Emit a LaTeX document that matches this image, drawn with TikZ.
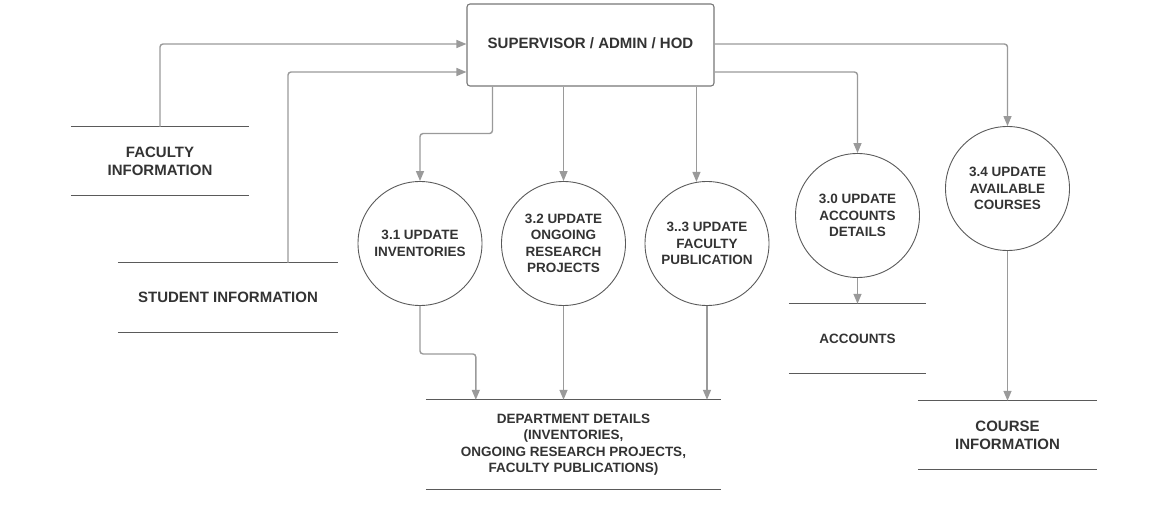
\documentclass[tikz,border=0pt]{standalone}
\usepackage{fontspec}
\setmainfont{Liberation Sans}
\usetikzlibrary{arrows.meta,calc}
\definecolor{txt}{HTML}{333333}
\definecolor{conncol}{HTML}{9A9A9A}
\definecolor{outl}{HTML}{5A5A5A}
\definecolor{boxcol}{HTML}{777777}
\tikzset{
  conn/.style={draw=conncol, line width=1.4pt, rounded corners=3pt, -{Triangle[length=10pt,width=8pt]}},
  plainconn/.style={draw=conncol, line width=1.4pt, rounded corners=3pt},
  proc/.style={circle, draw=outl, line width=0.9pt, minimum size=124pt, inner sep=0pt, align=center,
    text=txt, font=\bfseries\fontsize{13.5}{16.3}\selectfont},
  store/.style={inner sep=0pt, align=center, text=txt, font=\bfseries\fontsize{15}{17.7}\selectfont,
    append after command={
      \pgfextra{\draw[outl, line width=1.1pt] (\tikzlastnode.north west) -- (\tikzlastnode.north east)
        (\tikzlastnode.south west) -- (\tikzlastnode.south east);}}},
  entity/.style={draw=boxcol, line width=1.1pt, rounded corners=3pt, inner sep=0pt, text=txt,
    font=\bfseries\fontsize{15}{18}\selectfont}
}
\begin{document}
\begin{tikzpicture}[x=1pt,y=-1pt]
\useasboundingbox (0,0) rectangle (1168,505);
% entity
\node[entity, minimum width=247pt, minimum height=82pt] (box) at (590.5,45) {\raisebox{3pt}{SUPERVISOR / ADMIN / HOD}};
% stores
\node[store, minimum width=178pt, minimum height=68pt] (fac) at (160,161) {FACULTY\\INFORMATION};
\node[store, minimum width=220pt, minimum height=69pt] (stu) at (228,297.5) {STUDENT INFORMATION};
\node[store, minimum width=295pt, minimum height=89pt, font=\bfseries\fontsize{13.5}{16.5}\selectfont] (dept) at (573.5,444.5)
  {DEPARTMENT DETAILS\\(INVENTORIES,\\ONGOING RESEARCH PROJECTS,\\FACULTY PUBLICATIONS)};
\node[store, minimum width=137pt, minimum height=69pt, font=\bfseries\fontsize{13.5}{16.3}\selectfont] (acc) at (857.5,338.5) {ACCOUNTS};
\node[store, minimum width=179pt, minimum height=68pt] (crs) at (1007.5,435) {COURSE\\INFORMATION};
% processes
\node[proc] (c31) at (420,243.5) {3.1 UPDATE\\INVENTORIES};
\node[proc] (c32) at (563.5,243.5) {3.2 UPDATE\\ONGOING\\RESEARCH\\PROJECTS};
\node[proc] (c33) at (707,243.5) {3..3 UPDATE\\FACULTY\\PUBLICATION};
\node[proc] (c30) at (857.5,215.5) {3.0 UPDATE\\ACCOUNTS\\DETAILS};
\node[proc] (c34) at (1007.5,188.5) {3.4 UPDATE\\AVAILABLE\\COURSES};
% connectors
\draw[conn] (fac.north) |- ($(box.west)+(0,-1)$);
\draw[conn] ($(stu.north)+(60,0)$) |- ($(box.west)+(0,27)$);
\coordinate (b1) at ($(box.south west)+(26,0)$);
\draw[conn] (b1) -- ++(0,47) -| (c31.north);
\draw[conn] (c32.north |- box.south) -- (c32.north);
\coordinate (b3) at ($(box.south west)+(230,0)$);
\draw[conn] (b3) -- ($(b3 |- c33.north)+(0,0.8)$);
\draw[conn] ($(box.east)+(0,27)$) -| (c30.north);
\draw[conn] ($(box.east)+(0,-1)$) -| (c34.north);
\coordinate (d1) at ($(dept.north west)+(50,0)$);
\draw[conn] (c31.south) -- ++(0,48) -| (d1);
\draw[conn] (c32.south) -- (c32.south |- dept.north);
\draw[conn] (c33.south) -- (c33.south |- dept.north);
\draw[conn] (c30.south) -- (acc.north);
\draw[conn] (c34.south) -- (crs.north);
\end{tikzpicture}
\end{document}
